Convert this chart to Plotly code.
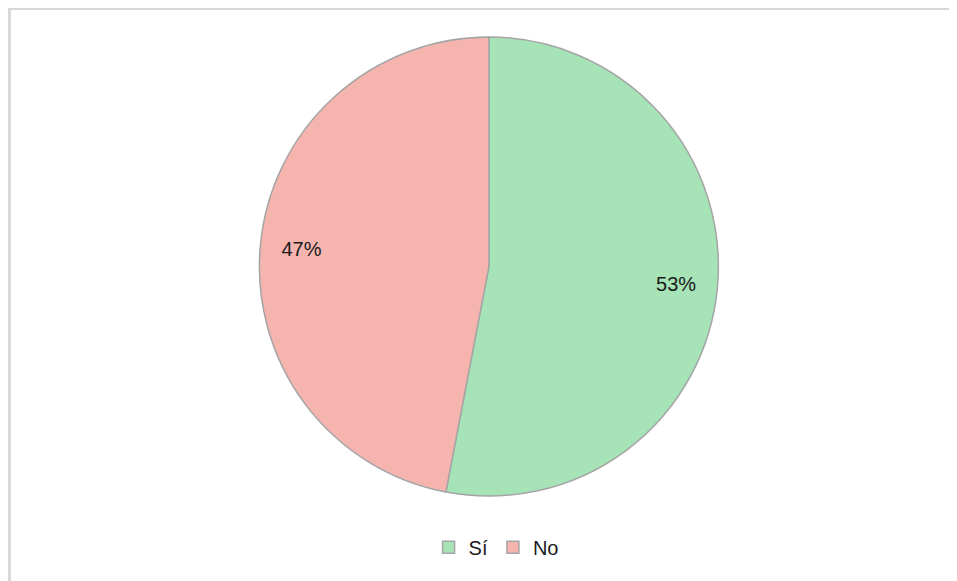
import plotly.graph_objects as go

labels = ["Sí", "No"]
values = [53, 47]
colors = ["#A6E3B7", "#F6B4AF"]

W, H = 957, 581
pie_domain = dict(x=[0.005, 1.0], y=[0.160, 0.950])

fig = go.Figure()

# base pie: colours, outline and legend
fig.add_trace(go.Pie(
    labels=labels,
    values=values,
    sort=False,
    direction="clockwise",
    rotation=0,
    marker=dict(colors=colors, line=dict(color="#A5A5A5", width=1.5)),
    textinfo="none",
    hoverinfo="label+percent",
    domain=pie_domain,
))

# transparent ring on top, only used to put the percent labels near the rim
fig.add_trace(go.Pie(
    labels=labels,
    values=values,
    sort=False,
    direction="clockwise",
    rotation=0,
    hole=0.64,
    marker=dict(colors=["rgba(0,0,0,0)"] * 2, line=dict(width=0)),
    textinfo="percent",
    texttemplate="%{percent:.0%}",
    textposition="inside",
    insidetextorientation="horizontal",
    textfont=dict(family="Liberation Sans, Arial", size=20, color="#1a1a1a"),
    showlegend=False,
    hoverinfo="skip",
    domain=pie_domain,
))

# chart frame: only the left and top edges fall inside the picture
frame = dict(color="#D9D9D9", width=3)

fig.update_layout(
    width=W,
    height=H,
    margin=dict(l=0, r=0, t=0, b=0),
    paper_bgcolor="white",
    plot_bgcolor="white",
    font=dict(family="Liberation Sans, Arial", color="#1a1a1a"),
    uniformtext=dict(minsize=20, mode="show"),
    legend=dict(
        orientation="h",
        x=0.51,
        xanchor="center",
        y=0.072,
        yanchor="middle",
        font=dict(size=20),
        itemwidth=30,
        tracegroupgap=0,
    ),
    shapes=[
        dict(type="line", xref="paper", yref="paper",
             x0=1.5 / W, x1=1.5 / W, y0=0, y1=1, line=frame),
        dict(type="line", xref="paper", yref="paper",
             x0=0, x1=1, y0=1 - 0.5 / H, y1=1 - 0.5 / H, line=frame),
    ],
)

# the page is a little larger than the window; keep scrollbars out of the picture
fig.write_html("out.html", post_script="document.body.style.overflow = 'hidden';")
